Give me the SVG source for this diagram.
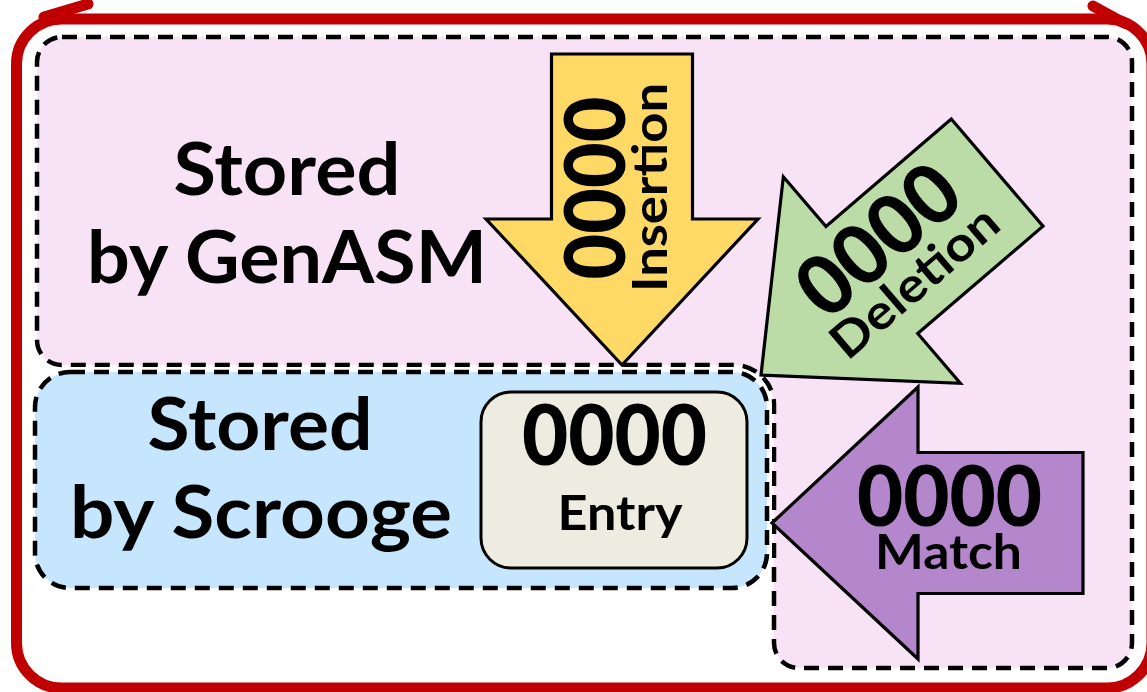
<svg xmlns="http://www.w3.org/2000/svg" width="1147" height="692" viewBox="0 0 1147 692">
  <defs>
    <style>
      .region { stroke: #000; stroke-width: 4.5; stroke-dasharray: 15 9; }
      .halo { fill: none; stroke: #fff; stroke-width: 10; }
      .arrow { stroke: #000; stroke-width: 3.2; stroke-linejoin: miter; }
      .big { font-family: Lato, "Open Sans", sans-serif; font-weight: 900; font-size: 83px; fill: #000; text-anchor: middle; }
      .lbl { font-family: Lato, "Open Sans", sans-serif; font-weight: 700; font-size: 48px; fill: #000; text-anchor: middle; }
      .title { font-family: Lato, "Open Sans", sans-serif; font-weight: 700; font-size: 72px; fill: #000; text-anchor: middle; }
      .loop { fill: none; stroke: #c00000; stroke-width: 11; stroke-linecap: round; stroke-linejoin: round; }
    </style>
    <!-- block arrow pointing left, tip at the origin -->
    <polygon id="blockArrow" points="0,0 146,-136 146,-70.5 311,-70.5 311,70.5 146,70.5 146,136"/>
  </defs>

  <rect width="1147" height="692" fill="#fff"/>

  <!-- region kept by GenASM -->
  <g id="genasm">
    <path class="region" fill="#f8e3f6" d="M62,37 H1107 A25,25 0 0 1 1132,62 V643 A25,25 0 0 1 1107,668 H799 A25,25 0 0 1 774,643 V405 A40,40 0 0 0 734,365 H62 A25,25 0 0 1 37,340 V62 A25,25 0 0 1 62,37 Z"/>
    <text class="title" x="287" y="195" textLength="227" lengthAdjust="spacingAndGlyphs">Stored</text>
    <text class="title" x="287" y="283" textLength="400" lengthAdjust="spacingAndGlyphs">by GenASM</text>
  </g>

  <!-- region kept by Scrooge -->
  <g id="scrooge">
    <rect class="halo" x="35" y="372" width="732" height="216" rx="35"/>
    <rect class="region" fill="#c5e6fc" x="35" y="372" width="732" height="216" rx="35"/>
    <text class="title" x="260" y="450" textLength="225" lengthAdjust="spacingAndGlyphs">Stored</text>
    <text class="title" x="261" y="538" textLength="382" lengthAdjust="spacingAndGlyphs">by Scrooge</text>
  </g>

  <!-- entry cell -->
  <g id="entry">
    <rect x="481" y="392" width="266" height="176" rx="30" fill="#eeece1" stroke="#000" stroke-width="3"/>
    <text class="big" x="614.5" y="465" textLength="185" lengthAdjust="spacingAndGlyphs">0000</text>
    <text class="lbl" x="620" y="530" textLength="125" lengthAdjust="spacingAndGlyphs">Entry</text>
  </g>

  <!-- insertion arrow (points down) -->
  <g id="insertion" transform="translate(622,365) rotate(-90)">
    <use href="#blockArrow" class="arrow" fill="#ffd966"/>
    <text class="big" x="177" y="3" textLength="183" lengthAdjust="spacingAndGlyphs">0000</text>
    <text class="lbl" x="177.5" y="45" textLength="209" lengthAdjust="spacingAndGlyphs">Insertion</text>
  </g>

  <!-- deletion arrow (points down-left) -->
  <g id="deletion" transform="translate(761,375) rotate(-40.6)">
    <use href="#blockArrow" class="arrow" fill="#bcdca7"/>
    <text class="big" x="177" y="3" textLength="185" lengthAdjust="spacingAndGlyphs">0000</text>
    <text class="lbl" x="177" y="46" textLength="205" lengthAdjust="spacingAndGlyphs">Deletion</text>
  </g>

  <!-- match arrow (points left) -->
  <g id="match" transform="translate(772,523)">
    <use href="#blockArrow" class="arrow" fill="#b486cc"/>
    <text class="big" x="177.5" y="3" textLength="185" lengthAdjust="spacingAndGlyphs">0000</text>
    <text class="lbl" x="176.5" y="46" textLength="147" lengthAdjust="spacingAndGlyphs">Match</text>
  </g>

  <!-- red loop around everything, with its two barbs -->
  <g id="connectors">
    <path class="loop" d="M61.5,19 H1107 A45,45 0 0 1 1152,64 V643 A45,45 0 0 1 1107,688 H61.5 A45,45 0 0 1 16.5,643 V64 A45,45 0 0 1 61.5,19"/>
    <path class="loop" d="M88,4 L44,17"/>
    <path class="loop" d="M1093,6 L1124,23"/>
  </g>
</svg>
